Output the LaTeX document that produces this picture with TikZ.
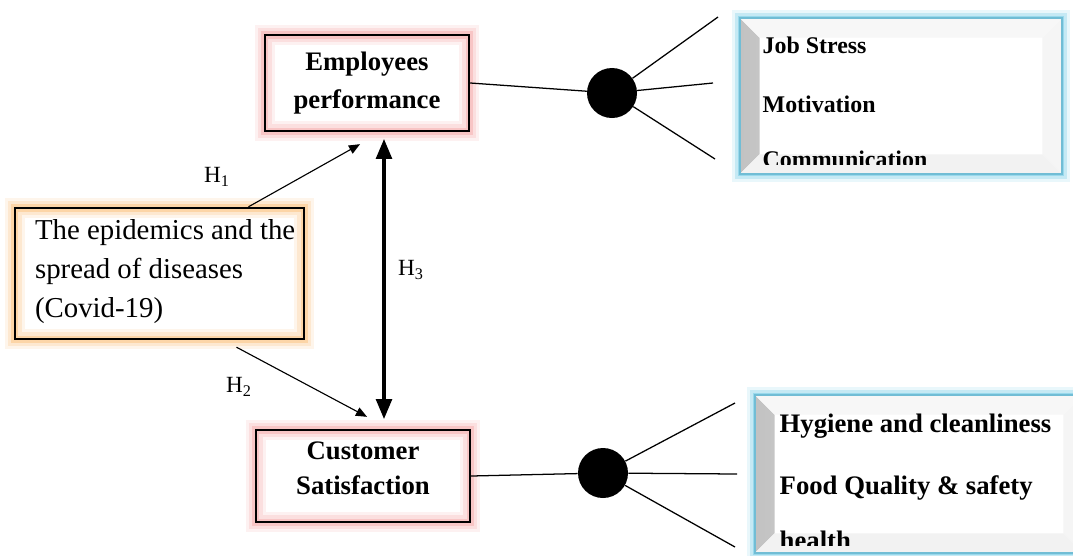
\documentclass[tikz,border=0pt]{standalone}
\usepackage{fontspec}
\setmainfont{Liberation Serif}
\usetikzlibrary{arrows,calc,shapes.geometric}

\definecolor{glowpink}{RGB}{240,140,140}
\definecolor{gloworange}{RGB}{250,190,120}
\definecolor{glowblue}{RGB}{110,200,228}

\begin{document}
\begin{tikzpicture}[
	x=0.025cm, y=-0.025cm, >=triangle 45,
	factor/.style={rectangle,draw,line width=1.7pt,align=center,inner sep=0pt,
		font=\bfseries\fontsize{19}{27.5}\selectfont,
		preaction={draw=glowpink!12,line width=14pt},
		preaction={draw=glowpink!28,line width=10pt},
		preaction={draw=glowpink!50,line width=5pt}},
	cause/.style={rectangle,draw,line width=1.7pt,inner sep=0pt,
		preaction={draw=gloworange!15,line width=14pt},
		preaction={draw=gloworange!35,line width=10pt},
		preaction={draw=gloworange!65,line width=5pt}},
	itembox/.style={rectangle,draw=glowblue!85!gray,line width=0.8pt,fill=white,inner sep=0pt,
		preaction={draw=glowblue!15,line width=11pt},
		preaction={draw=glowblue!40,line width=7pt},
		preaction={draw=glowblue!70,line width=3pt},
		path picture={
			\fill[left color=black!24,right color=black!2]
				(path picture bounding box.north west) -- ([shift={(14pt,-14pt)}]path picture bounding box.north west)
				-- ([shift={(14pt,14pt)}]path picture bounding box.south west) -- (path picture bounding box.south west) -- cycle;
			\fill[black!3]
				(path picture bounding box.north west) -- (path picture bounding box.north east)
				-- ([shift={(-14pt,-14pt)}]path picture bounding box.north east) -- ([shift={(14pt,-14pt)}]path picture bounding box.north west) -- cycle;
			\fill[black!4]
				(path picture bounding box.north east) -- (path picture bounding box.south east)
				-- ([shift={(-14pt,14pt)}]path picture bounding box.south east) -- ([shift={(-14pt,-14pt)}]path picture bounding box.north east) -- cycle;
			\fill[black!5]
				(path picture bounding box.south west) -- (path picture bounding box.south east)
				-- ([shift={(-14pt,14pt)}]path picture bounding box.south east) -- ([shift={(14pt,14pt)}]path picture bounding box.south west) -- cycle;
		}},
	item/.style={anchor=base west,inner sep=0pt,font=\bfseries\fontsize{17}{20}\selectfont},
	dot/.style={circle,fill=black,inner sep=0pt,minimum size=1.25cm},
	hyp/.style={->,line width=0.8pt},
	hlabel/.style={font=\fontsize{16.5}{19}\selectfont}
	]
	\useasboundingbox (0,0) rectangle (1073,555);
	\clip (0,0) rectangle (1073,555);

	% main constructs
	\node [factor,minimum width=5.1cm,minimum height=2.4cm] (emp) at (367,83) {Employees\\performance};
	\node [factor,minimum width=5.35cm,minimum height=2.3cm] (cus) at (363,476) {Customer\\[-2.6pt]Satisfaction\\[-17pt]};
	\node [cause,minimum width=7.225cm,minimum height=3.275cm] (cov) at (159.5,273.5) {};
	\node [anchor=west,align=left,inner sep=0pt,font=\fontsize{20.5}{27.7}\selectfont] (covtxt) at ($(cov.west)+(21,-2)$)
		{The epidemics and the\\spread of diseases\\(Covid-19)};

	% hypotheses
	\draw [hyp] ($(cov.north)+(89,0)$) -- ($(emp.south)+(-7,12)$);
	\draw [hyp] ($(cov.south)+(77,7)$) -- ($(cus.north)+(4,-12)$);
	\draw [<->,line width=2.3pt] ($(emp.south)+(17,7)$) -- ($(cus.north)+(21,-10)$);
	\node [hlabel] (h1) at (217,177) {H\textsubscript{1}};
	\node [hlabel] (h2) at (239,387) {H\textsubscript{2}};
	\node [hlabel] (h3) at (411,270) {H\textsubscript{3}};

	% dimensions of employees performance
	\node [dot] (dot1) at (612,93) {};
	\coordinate (e1) at (718,17);
	\coordinate (e2) at (713,83);
	\coordinate (e3) at (715,159);
	\draw [line width=0.9pt] (emp.east) -- (dot1);
	\draw [line width=0.9pt] (dot1) -- (e1);
	\draw [line width=0.9pt] (dot1) -- (e2);
	\draw [line width=0.9pt] (dot1) -- (e3);
	\node [itembox,minimum width=8.05cm,minimum height=3.9cm] (kpi1) at (901,96) {};
	\begin{scope}
		\clip ($(kpi1.north west)+(0,4)$) rectangle ($(kpi1.south east)+(0,-10)$);
		\node [item] (js) at ($(kpi1.north west)+(23,36)$) {Job Stress};
		\node [item] (mo) at ($(kpi1.north west)+(23,95)$) {Motivation};
		\node [item] (co) at ($(kpi1.north west)+(23,150)$) {Communication};
	\end{scope}

	% dimensions of customer satisfaction
	\node [dot] (dot2) at (603,473) {};
	\coordinate (c1) at (735,403);
	\coordinate (c2) at (737,474);
	\coordinate (c3) at (735,547);
	\draw [line width=0.9pt] (cus.east) -- (dot2);
	\draw [line width=0.9pt] (dot2) -- (c1);
	\draw [line width=0.9pt] (dot2) -- (c2);
	\draw [line width=0.9pt] (dot2) -- (c3);
	\node [itembox,minimum width=8.2cm,minimum height=3.95cm] (kpi2) at (919,474) {};
	\begin{scope}
		\clip ($(kpi2.north west)+(0,4)$) rectangle ($(kpi2.south east)+(0,-8)$);
		\node [item,font=\bfseries\fontsize{19}{22}\selectfont] (hy) at ($(kpi2.north west)+(25,38)$) {Hygiene and cleanliness};
		\node [item,font=\bfseries\fontsize{19}{22}\selectfont] (fq) at ($(kpi2.north west)+(25,100)$) {Food Quality \& safety};
		\node [item,font=\bfseries\fontsize{19}{22}\selectfont] (he) at ($(kpi2.north west)+(25,155)$) {health};
	\end{scope}
\end{tikzpicture}
\end{document}
